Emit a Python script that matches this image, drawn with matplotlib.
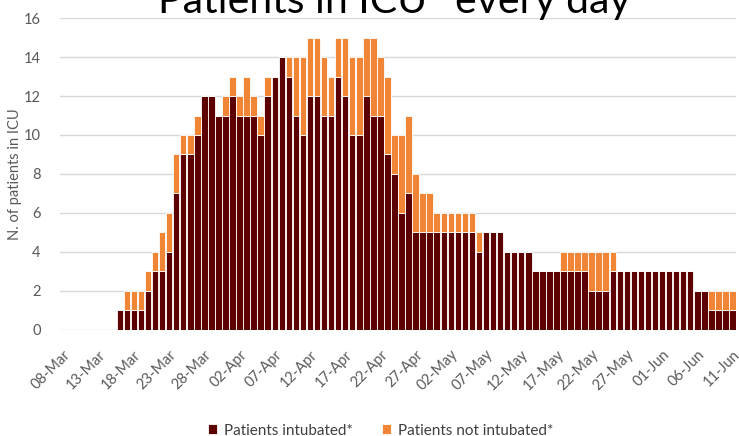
import matplotlib.pyplot as plt
import numpy as np
import pandas as pd

START = "2020-03-08"
N_DAYS = 96

intubated = [0, 0, 0, 0, 0, 0, 0, 0,
             1, 1, 1, 1, 2, 3, 3, 4, 7, 9, 9, 10,
             12, 12, 11, 11, 12, 11, 11, 11, 10, 12,
             13, 14, 13, 11, 10, 12, 12, 11, 11, 13,
             12, 10, 10, 12, 11, 11, 9, 8, 6, 7,
             5, 5, 5, 5, 5, 5, 5, 5, 5, 4,
             5, 5, 5, 4, 4, 4, 4, 3, 3, 3,
             3, 3, 3, 3, 3, 2, 2, 2, 3, 3,
             3, 3, 3, 3, 3, 3, 3, 3, 3, 3,
             2, 2, 1, 1, 1, 1]
not_intubated = [0, 0, 0, 0, 0, 0, 0, 0,
                 0, 1, 1, 1, 1, 1, 2, 2, 2, 1, 1, 1,
                 0, 0, 0, 1, 1, 1, 2, 1, 1, 1,
                 0, 0, 1, 3, 4, 3, 3, 3, 2, 2,
                 3, 4, 4, 3, 4, 3, 4, 2, 4, 4,
                 3, 2, 2, 1, 1, 1, 1, 1, 1, 1,
                 0, 0, 0, 0, 0, 0, 0, 0, 0, 0,
                 0, 1, 1, 1, 1, 2, 2, 2, 1, 0,
                 0, 0, 0, 0, 0, 0, 0, 0, 0, 0,
                 0, 0, 1, 1, 1, 1]

DARK = "#5c0000"
ORANGE = "#ef8535"
GRAY = "#595959"


def main():
    dates = pd.date_range(START, periods=N_DAYS, freq="D")
    x = np.arange(N_DAYS)

    plt.rcParams["font.family"] = ["Lato", "DejaVu Sans"]
    fig = plt.figure(figsize=(7.39, 4.36), dpi=100)
    ax = fig.add_axes([60 / 739, 106.5 / 436, 676 / 739, 311.2 / 436])

    ax.bar(x, intubated, width=0.92, color=DARK, edgecolor="white",
           linewidth=0.6, label="Patients intubated*", zorder=3)
    ax.bar(x, not_intubated, width=0.92, bottom=intubated, color=ORANGE,
           edgecolor="white", linewidth=0.6, label="Patients not intubated*",
           zorder=3)

    ax.set_xlim(-0.5, N_DAYS - 0.5)
    ax.set_ylim(0, 16)
    ax.set_yticks(range(0, 17, 2))
    ax.grid(axis="y", color="#d9d9d9", linewidth=1.0, zorder=0)
    for s in ax.spines.values():
        s.set_visible(False)
    ax.tick_params(axis="y", length=0, pad=14, labelsize=10.5, labelcolor=GRAY)

    ticks = x[::5]
    ax.set_xticks(ticks)
    ax.set_xticklabels([d.strftime("%d-%b") for d in dates[::5]],
                       rotation=45, ha="right", rotation_mode="anchor",
                       fontsize=10.5, color=GRAY)
    ax.tick_params(axis="x", length=0, pad=13)

    ax.set_ylabel("N. of patients in ICU", fontsize=10.5, color=GRAY)
    ax.yaxis.set_label_coords(-38 / 676, 0.5)

    fig.text(0.545, 1.0 - 13 / 436, "Patients in ICU* every day*",
             ha="center", va="baseline", fontsize=29.5, color="black")

    fig.legend(loc="lower center", bbox_to_anchor=(0.515, -0.035), ncol=2,
               frameon=False, fontsize=11, handlelength=0.6, handleheight=0.6,
               columnspacing=1.95, handletextpad=0.4, labelcolor="#404040")

    fig.savefig("out.png", dpi=100)


if __name__ == "__main__":
    main()
